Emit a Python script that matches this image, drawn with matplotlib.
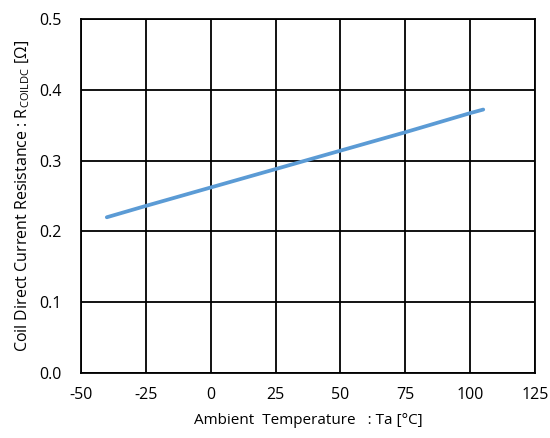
import matplotlib.pyplot as plt

# data
temp = [-40, -25, 0, 25, 50, 75, 100, 105]
resistance = [0.220, 0.236, 0.262, 0.288, 0.314, 0.340, 0.367, 0.372]

x_ticks = [-50, -25, 0, 25, 50, 75, 100, 125]
y_ticks = [0.0, 0.1, 0.2, 0.3, 0.4, 0.5]

plt.rcParams['font.family'] = ['Open Sans', 'DejaVu Sans']
plt.rcParams['mathtext.default'] = 'regular'

fig = plt.figure(figsize=(5.5, 4.38), dpi=100)
ax = fig.add_axes([0.147, 0.148, 0.826, 0.809])

ax.plot(temp, resistance, color='#5B9BD5', linewidth=2.7, solid_capstyle='round')

ax.set_xlim(-50, 125)
ax.set_ylim(0, 0.5)
ax.set_xticks(x_ticks)
ax.set_yticks(y_ticks)
ax.set_xticklabels([str(t) for t in x_ticks])
ax.set_yticklabels(['%.1f' % v for v in y_ticks])
ax.tick_params(length=0, labelsize=11.5)
ax.tick_params(axis='x', pad=10)
ax.tick_params(axis='y', pad=14)
ax.grid(True, color='black', linewidth=1.3)
ax.set_axisbelow(True)
for s in ax.spines.values():
    s.set_linewidth(1.3)

ax.set_xlabel('Ambient  Temperature   : Ta [°C]', fontsize=11, labelpad=7)
ax.set_ylabel(r'Coil Direct Current Resistance : R$_{COILDC}$ [Ω]', fontsize=11.5, labelpad=5)

fig.savefig('out.png', dpi=100)
